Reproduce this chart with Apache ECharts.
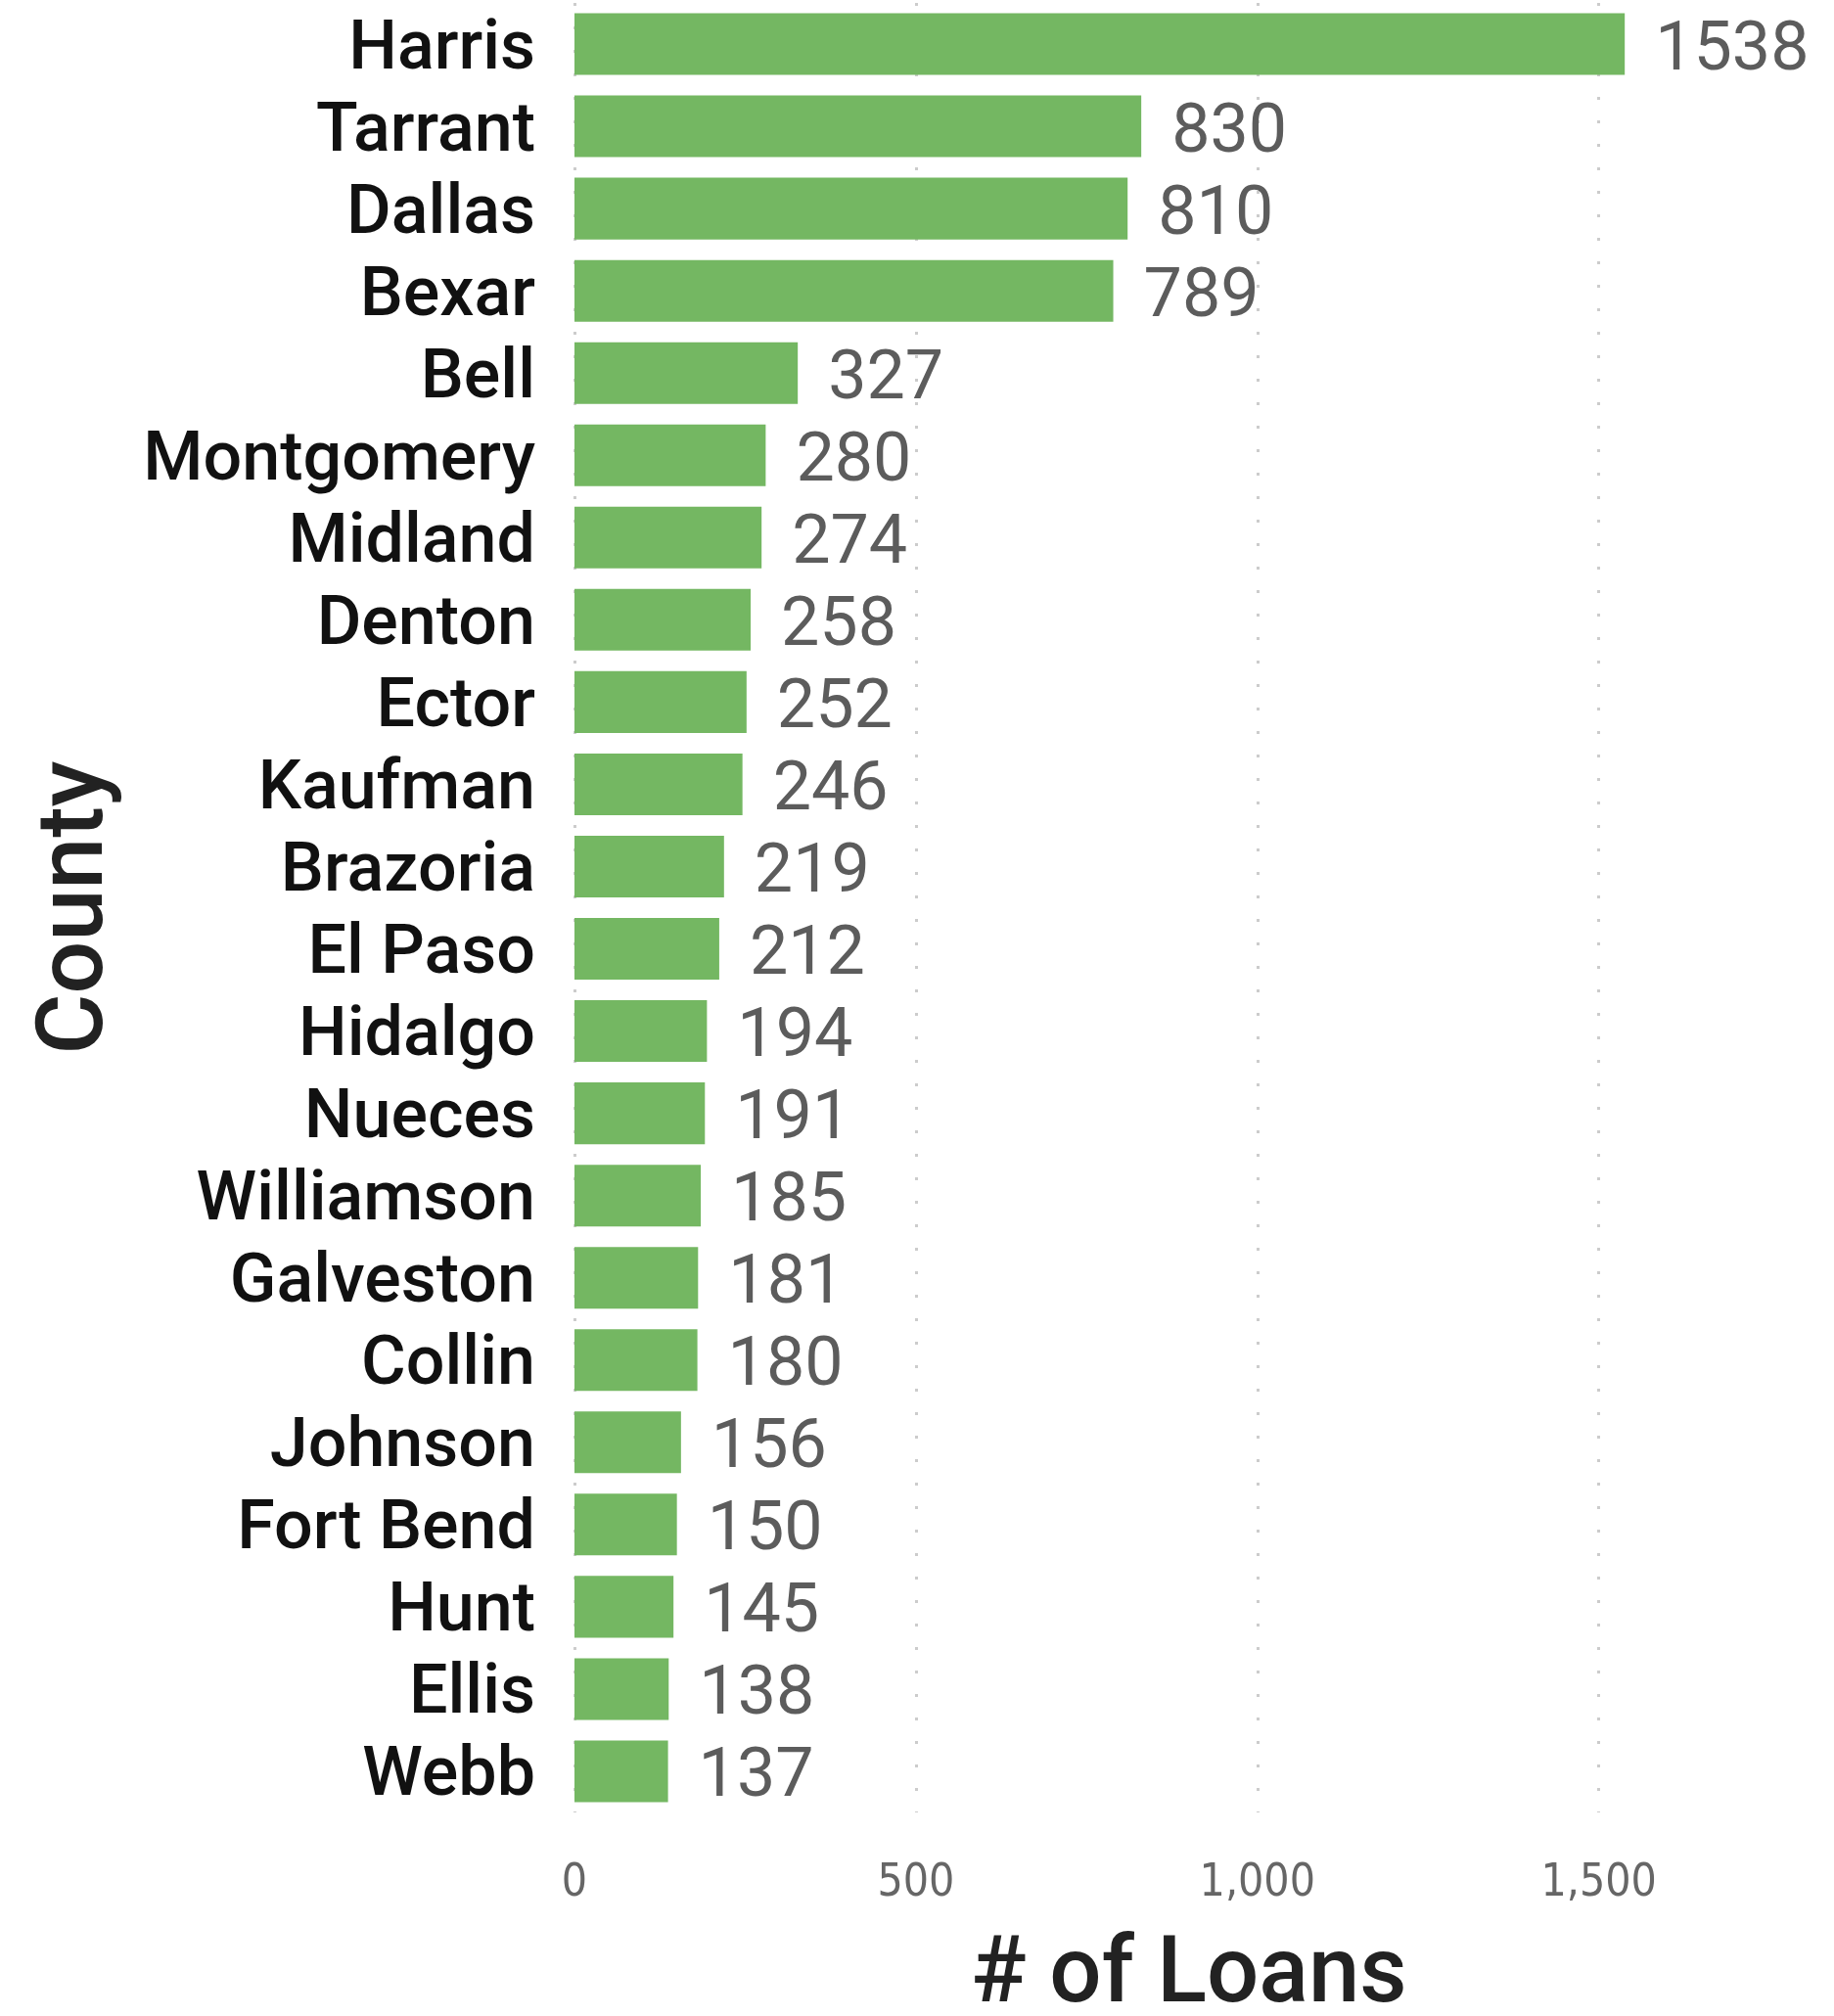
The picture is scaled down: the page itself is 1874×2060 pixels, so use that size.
<!DOCTYPE html>
<html>
<head>
<meta charset="utf-8">
<script src="https://cdn.jsdelivr.net/npm/echarts@6/dist/echarts.min.js"></script>
<style>
html,body{margin:0;padding:0;background:#fff;}
#chart{width:1874px;height:2060px;}
</style>
</head>
<body>
<div id="chart"></div>
<script>
const counties = ["Harris","Tarrant","Dallas","Bexar","Bell","Montgomery","Midland","Denton","Ector","Kaufman","Brazoria","El Paso","Hidalgo","Nueces","Williamson","Galveston","Collin","Johnson","Fort Bend","Hunt","Ellis","Webb"];
const loans = [1538,830,810,789,327,280,274,258,252,246,219,212,194,191,185,181,180,156,150,145,138,137];
const xTicks = [0,500,1000,1500];

const chart = echarts.init(document.getElementById('chart'), null, {renderer:'canvas'});
chart.setOption({
  backgroundColor:'#ffffff',
  animation:false,
  grid:{left:587, right:31, top:3, bottom:208, containLabel:false, outerBoundsMode:'none'},
  xAxis:{
    type:'value', min:0, max:1800, interval:500,
    name:'# of Loans', nameLocation:'middle', nameGap:122,
    nameTextStyle:{fontFamily:'Roboto', fontSize:94, color:'#222', fontWeight:500},
    axisLine:{show:false}, axisTick:{show:false},
    axisLabel:{fontFamily:'Liberation Sans Narrow, DejaVu Sans Condensed', fontSize:46, color:'#666', margin:50,
      showMaxLabel:false,
      formatter:v=> xTicks.indexOf(v)>=0 ? v.toLocaleString('en-US') : ''},
    splitLine:{show:false}
  },
  yAxis:{
    type:'category', data:counties, inverse:true,
    name:'County', nameLocation:'middle', nameGap:459, nameRotate:90,
    nameTextStyle:{fontFamily:'Roboto', fontSize:95, color:'#222', fontWeight:500},
    axisLine:{show:false}, axisTick:{show:false},
    axisLabel:{interval:0, margin:40,
      formatter:v=>'{a|'+v+'}',
      rich:{a:{fontFamily:'Roboto', fontSize:70, color:'#111', fontWeight:500, padding:[14,0,0,0]}}},
    splitLine:{show:false}
  },
  series:[{
    type:'bar', data:loans, barWidth:'75%',
    itemStyle:{color:'#74b762'},
    label:{show:true, position:'right', distance:31, offset:[0,8], fontFamily:'Roboto', fontSize:70, color:'#5c5c5c'},
    markLine:{
      silent:true, symbol:['none','none'], label:{show:false},
      lineStyle:{color:'#cccccc', width:3, type:[3,21]},
      data: xTicks.map(v=>({xAxis:v})),
      z:-1
    },
    z:2
  }]
});
</script>
</body>
</html>
